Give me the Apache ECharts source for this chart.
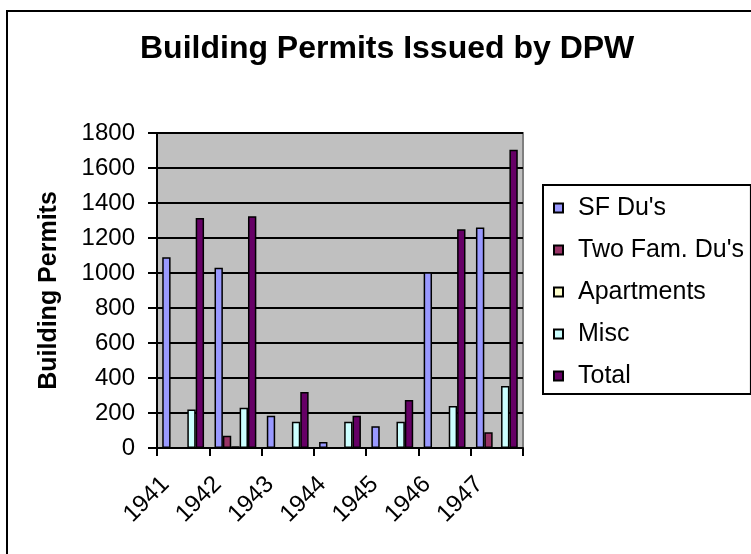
<!DOCTYPE html>
<html>
<head>
<meta charset="utf-8">
<script src="https://cdn.jsdelivr.net/npm/echarts@6/dist/echarts.min.js"></script>
<style>
html,body{margin:0;padding:0;background:#fff;}
#chart{width:751px;height:554px;}
</style>
</head>
<body>
<div id="chart"></div>
<script>
var years = ['1941', '1942', '1943', '1944', '1945', '1946', '1947'];
var sfDus = [1090, 1030, 185, 35, 125, 1005, 1260];
var twoFamDus = [0, 70, 0, 0, 0, 0, 90];
var apartments = [0, 10, 0, 0, 0, 0, 0];
var misc = [220, 230, 150, 150, 150, 240, 355];
var total = [1315, 1325, 320, 185, 275, 1250, 1705];

var seriesNames = ['SF Du\'s', 'Two Fam. Du\'s', 'Apartments', 'Misc', 'Total'];
var seriesData = [sfDus, twoFamDus, apartments, misc, total];
var seriesColors = ['#9999FF', '#993366', '#FFFFCC', '#CCFFFF', '#660066'];

var FONT = '"Liberation Sans", Arial, sans-serif';

var chart = echarts.init(document.getElementById('chart'), null, {renderer: 'canvas'});

var series = seriesNames.map(function (n, i) {
  return {
    name: n,
    type: 'bar',
    data: seriesData[i],
    barGap: '0%',
    barCategoryGap: '20%',
    itemStyle: {color: seriesColors[i], borderColor: '#000', borderWidth: 1.5},
    emphasis: {disabled: true}
  };
});

chart.setOption({
  animation: false,
  backgroundColor: '#fff',
  textStyle: {fontFamily: FONT, color: '#000'},
  title: {
    text: 'Building Permits Issued by DPW',
    left: 140,
    top: 33,
    padding: 0,
    textStyle: {fontFamily: FONT, fontSize: 32, fontWeight: 'bold', color: '#000'}
  },
  graphic: [{
    type: 'rect',
    shape: {x: 7, y: 11, width: 800, height: 600},
    style: {fill: null, stroke: '#000', lineWidth: 2},
    silent: true,
    z: 100
  }],
  legend: {
    orient: 'vertical',
    left: 543,
    top: 185,
    padding: [8, 7, 3, 10],
    itemGap: 12,
    itemWidth: 9,
    itemHeight: 9,
    icon: 'rect',
    borderColor: '#000',
    borderWidth: 2,
    data: seriesNames,
    selectedMode: false,
    textStyle: {fontFamily: FONT, fontSize: 25, color: '#000', lineHeight: 30, padding: [0, 0, 0, 10]}
  },
  grid: {
    left: 157,
    right: 228,
    top: 133,
    bottom: 106,
    show: true,
    backgroundColor: '#C0C0C0',
    borderColor: '#808080',
    borderWidth: 2
  },
  xAxis: {
    type: 'category',
    data: years,
    axisLine: {lineStyle: {color: '#000', width: 2}},
    axisTick: {show: true, length: 8, lineStyle: {color: '#000', width: 2}},
    axisLabel: {
      rotate: 45,
      margin: 15,
      padding: [0, 25, 0, 0],
      fontSize: 24,
      fontFamily: FONT,
      color: '#000'
    },
    splitLine: {show: false}
  },
  yAxis: {
    type: 'value',
    min: 0,
    max: 1800,
    interval: 200,
    name: 'Building Permits',
    nameLocation: 'middle',
    nameGap: 95,
    nameTextStyle: {fontFamily: FONT, fontSize: 25, fontWeight: 'bold', color: '#000'},
    axisLine: {show: true, lineStyle: {color: '#000', width: 2}},
    axisTick: {show: true, length: 9, lineStyle: {color: '#000', width: 2}},
    axisLabel: {
      margin: 22, fontSize: 24, fontFamily: FONT, color: '#000',
      formatter: function (v) { return String(v); }
    },
    splitLine: {show: true, lineStyle: {color: '#000', width: 2}}
  },
  series: series
});
</script>
</body>
</html>
